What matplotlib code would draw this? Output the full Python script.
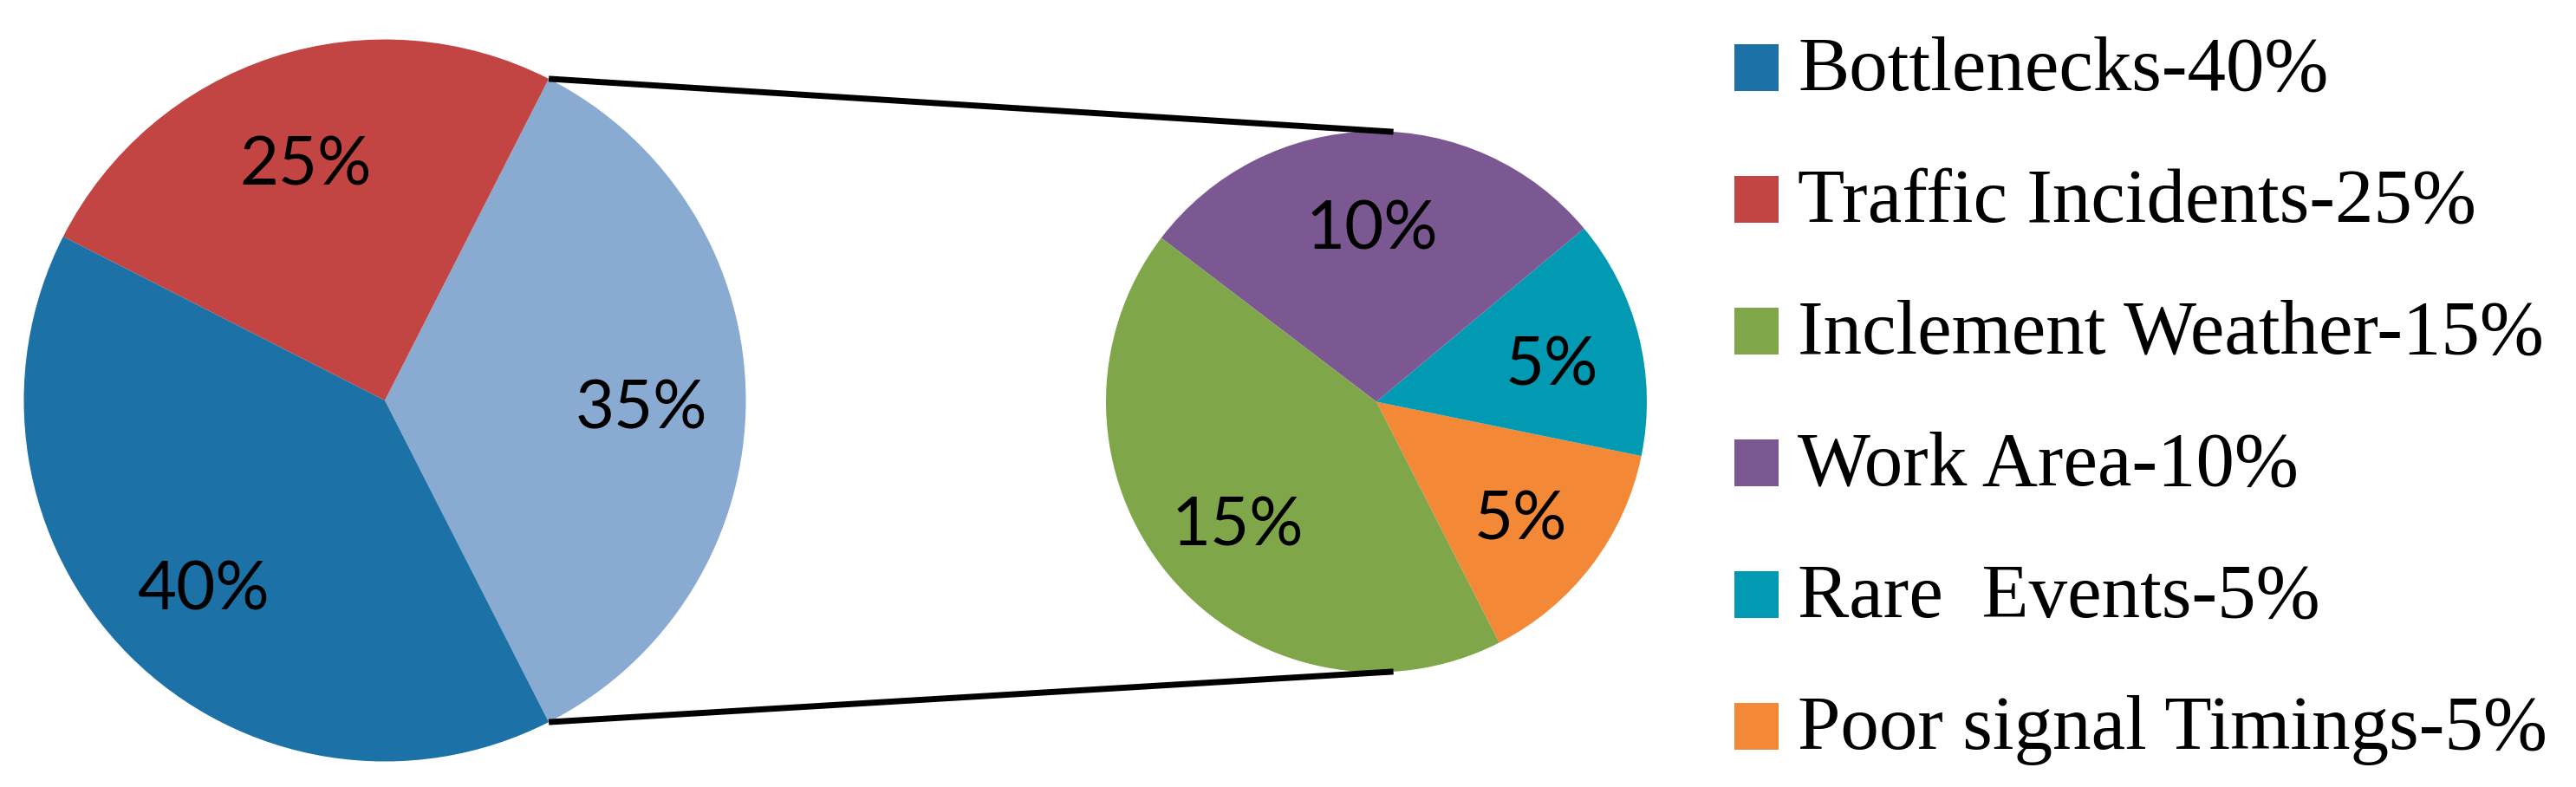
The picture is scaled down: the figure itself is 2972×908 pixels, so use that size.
import matplotlib
matplotlib.use('Agg')
import matplotlib.pyplot as plt
import numpy as np
from matplotlib.patches import Rectangle

# ---- data ----
legend_labels = ['Bottlenecks-40%', 'Traffic Incidents-25%', 'Inclement Weather-15%',
                 'Work Area-10%', 'Rare  Events-5%', 'Poor signal Timings-5%']
legend_colors = ['#1C71A7', '#C34543', '#7FA648', '#7B5892', '#0299B2', '#F38836']

main_values = [35, 25, 40]          # other causes (split out), Traffic Incidents, Bottlenecks
main_colors = ['#8AABD1', '#C34543', '#1C71A7']
sub_values = [5, 5, 10, 15]         # Poor signal Timings, Rare Events, Work Area, Inclement Weather
sub_colors = ['#F38836', '#0299B2', '#7B5892', '#7FA648']

# ---- layout ----
W, H = 2972, 908
fig = plt.figure(figsize=(W / 100, H / 100), dpi=100)
ax = fig.add_axes([0, 0, 1, 1])

start = -180.0 * main_values[0] / sum(main_values)
c1, r1 = (444, H - 462), 416.5
c2, r2 = (1588, H - 463.5), 312

w1, _ = ax.pie(main_values, colors=main_colors, startangle=start, counterclock=True,
               radius=r1, center=c1, wedgeprops=dict(linewidth=0))
w2, _ = ax.pie(sub_values, colors=sub_colors, startangle=start, counterclock=True,
               radius=r2, center=c2, wedgeprops=dict(linewidth=0))

def label_wedges(wedges, values, c, r, dist):
    for wdg, v in zip(wedges, values):
        th = np.deg2rad((wdg.theta1 + wdg.theta2) / 2)
        ax.text(c[0] + dist * r * np.cos(th), c[1] + dist * r * np.sin(th) - 4, f'{v}%',
                ha='center', va='center_baseline', fontsize=56, family=['Lato', 'DejaVu Sans'],
                color='black', zorder=6)

label_wedges(w1, main_values, c1, r1, 0.71)
label_wedges(w2, sub_values, c2, r2, 0.67)

# connector lines from the split slice to the secondary pie
conn_angle = 86.4
for s in (1, -1):
    a1 = np.deg2rad(-start * s)
    a2 = np.deg2rad(conn_angle * s)
    ax.plot([c1[0] + r1 * np.cos(a1), c2[0] + r2 * np.cos(a2)],
            [c1[1] + r1 * np.sin(a1), c2[1] + r2 * np.sin(a2)],
            color='black', lw=5, solid_capstyle='butt', zorder=5)

# legend
for i, (lab, col) in enumerate(zip(legend_labels, legend_colors)):
    yc = H - (78 + 152 * i)
    ax.add_patch(Rectangle((2001, yc - 27), 51, 54, facecolor=col, linewidth=0))
    ax.text(2074, yc - 26, lab, fontsize=64, family=['Liberation Serif', 'DejaVu Serif'],
            ha='left', va='baseline', color='black')

ax.set_xlim(0, W)
ax.set_ylim(0, H)
ax.set_aspect('equal')
ax.axis('off')

fig.savefig('out.png', dpi=100)
